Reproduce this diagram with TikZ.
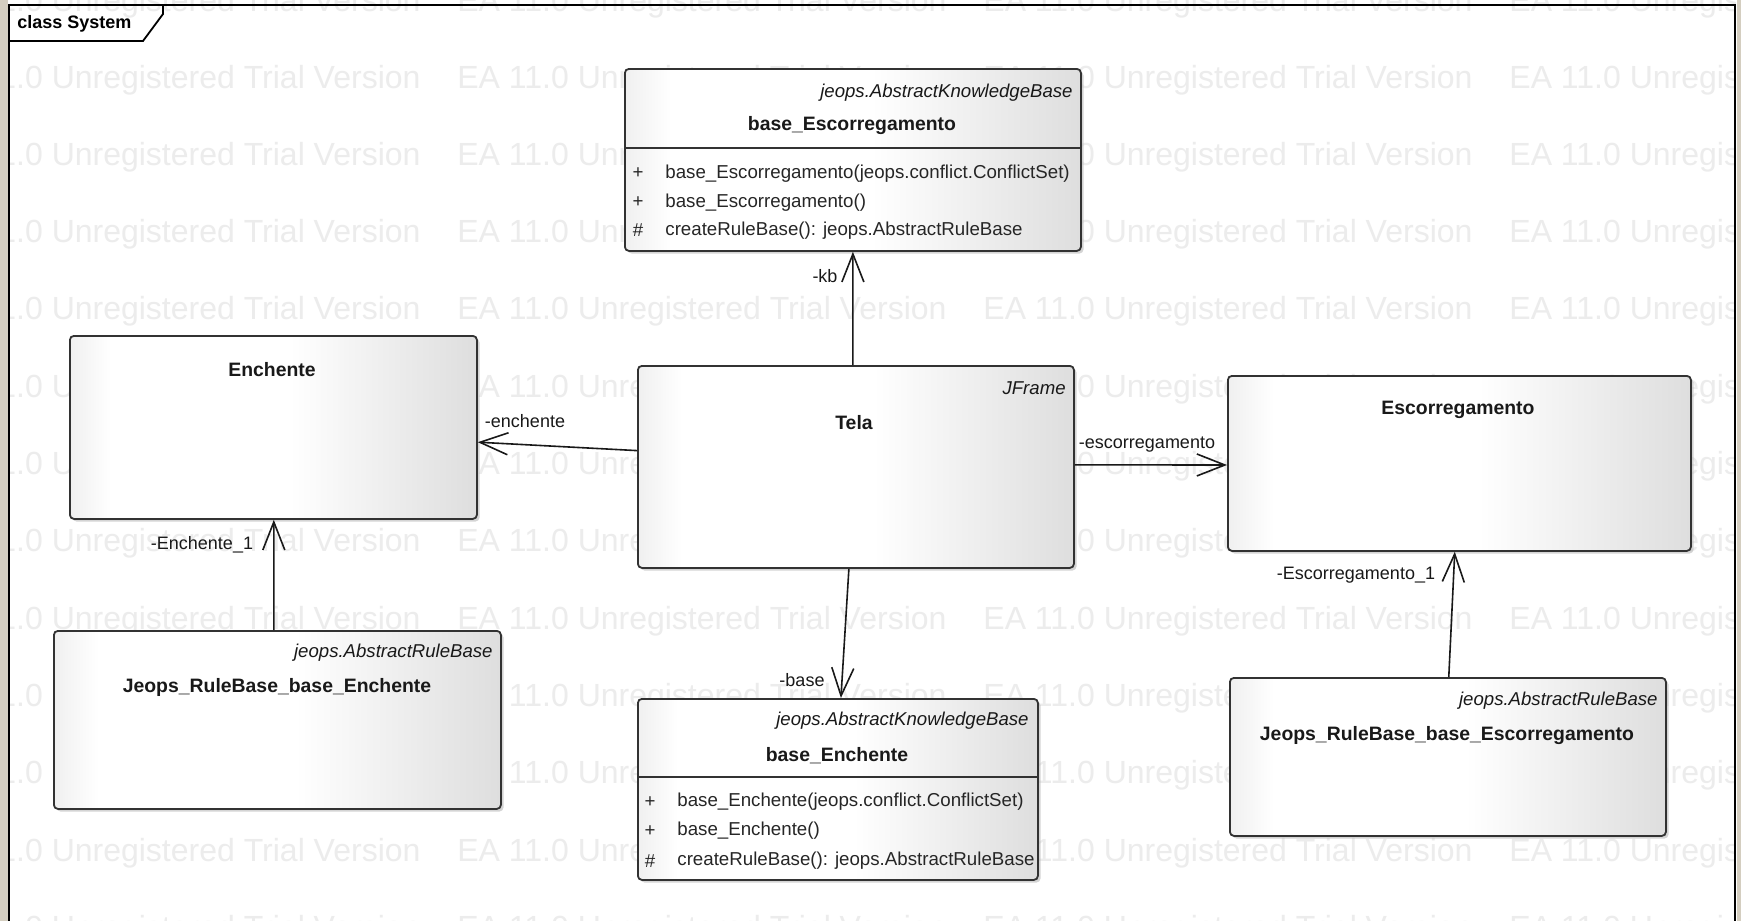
\documentclass[tikz,border=0pt]{standalone}
\usepackage{fontspec}
\setmainfont{Liberation Sans}
\usetikzlibrary{arrows.meta,calc,shadows}
\definecolor{wm}{RGB}{236,236,236}
\definecolor{beige}{RGB}{212,206,192}
\definecolor{boxline}{RGB}{50,50,50}
\pgfdeclarehorizontalshading{boxshade}{100bp}{color(0bp)=(black!6); color(25bp)=(black!6); color(30bp)=(white); color(52bp)=(white); color(75bp)=(black!13); color(100bp)=(black!13)}
\newcommand{\stereofont}{\fontsize{9.3pt}{11pt}\selectfont\itshape}
\newcommand{\namefont}{\fontsize{9.7pt}{11pt}\selectfont\bfseries}
\newcommand{\opfont}{\fontsize{9.35pt}{11pt}\selectfont}
\newcommand{\rolefont}{\fontsize{9pt}{11pt}\selectfont}
\newcommand{\wmfont}{\fontsize{16pt}{18pt}\selectfont}
\tikzset{
  classbox/.style={draw=boxline, line width=0.9pt, rounded corners=2pt, shade, shading=boxshade,
    drop shadow={shadow xshift=1.3pt, shadow yshift=-1.3pt, fill=black!30, opacity=0.55},
    inner sep=0pt, anchor=north west},
  txt/.style={inner sep=0pt, yshift=-1.3pt},
  stereo/.style={txt, font=\stereofont, anchor=east, text=black!90},
  cname/.style={txt, font=\namefont, text=black!90},
  op/.style={txt, font=\opfont, anchor=west, text=black!85},
  vis/.style={txt, font=\opfont, text=black!85},
  role/.style={txt, font=\rolefont, text=black!90},
  divider/.style={draw=boxline, line width=0.9pt},
  assoc/.style={line width=0.8pt, draw=black!90, -{Straight Barb[length=14pt,width=11pt,line width=0.8pt]}},
  watermark/.style={font=\wmfont, text=wm, anchor=west, inner sep=0pt},
  framestyle/.style={line width=0.9pt, draw=black},
}
\begin{document}
\begin{tikzpicture}[x=0.5pt, y=-0.5pt]
\useasboundingbox (0,0) rectangle (1741,921);
\fill[white] (0,0) rectangle (1741,921);
\fill[beige] (0,0) rectangle (8,921);
\fill[beige] (1737,0) rectangle (1741,921);
% watermark
\begin{scope}
\clip (10,0) rectangle (1735,921);
\foreach \r [count=\i] in {3,80,157,234,311,389,466,543,621,698,775,853,930}{
  \foreach \c [count=\j] in {-69,457,983,1509}{
    \node[watermark] (wm\i-\j) at (\c,\r) {EA 11.0 Unregistered Trial Version};
  }
}
\end{scope}
% frame
\draw[framestyle] (9,921) -- (9,5) -- (1735,5) -- (1735,921);
\draw[framestyle] (9,41) -- (143,41) -- (163,14) -- (163,5);
\node[font=\fontsize{9pt}{11pt}\selectfont\bfseries, anchor=west, inner sep=0pt] (title) at (17,24) {class System};
% classes
\node[classbox, minimum width=228pt, minimum height=91pt] (besc) at (624,68) {};
\node[classbox, minimum width=218pt, minimum height=101pt] (tela) at (637,365) {};
\node[classbox, minimum width=203.5pt, minimum height=91.5pt] (ench) at (69,335) {};
\node[classbox, minimum width=223.5pt, minimum height=89pt] (rbe) at (53,630) {};
\node[classbox, minimum width=200pt, minimum height=90.5pt] (bench) at (637,698) {};
\node[classbox, minimum width=231.5pt, minimum height=87.5pt] (esc) at (1227,375) {};
\node[classbox, minimum width=218pt, minimum height=79pt] (rbesc) at (1229,677) {};
% dividers
\draw[divider] (besc.west |- 0,148) -- (besc.east |- 0,148);
\draw[divider] (bench.west |- 0,777) -- (bench.east |- 0,777);
% base_Escorregamento
\node[stereo] (besc-st) at (1073,90) {jeops.AbstractKnowledgeBase};
\node[cname] (besc-nm) at (852,123) {base\_Escorregamento};
\node[vis] (besc-v1) at (638,171) {+};
\node[op] (besc-o1) at (665,171) {base\_Escorregamento(jeops.conflict.ConflictSet)};
\node[vis] (besc-v2) at (638,200) {+};
\node[op] (besc-o2) at (665,200) {base\_Escorregamento()};
\node[vis] (besc-v3) at (638,228) {\#};
\node[op] (besc-o3) at (665,228) {createRuleBase(): jeops.AbstractRuleBase};
% Tela
\node[stereo] (tela-st) at (1066,386) {JFrame};
\node[cname] (tela-nm) at (854,420) {Tela};
% Enchente
\node[cname] (ench-nm) at (272,367) {Enchente};
% Jeops_RuleBase_base_Enchente
\node[stereo] (rbe-st) at (493,650) {jeops.AbstractRuleBase};
\node[cname] (rbe-nm) at (277,685) {Jeops\_RuleBase\_base\_Enchente};
% base_Enchente
\node[stereo] (bench-st) at (1029,718) {jeops.AbstractKnowledgeBase};
\node[cname] (bench-nm) at (837,753) {base\_Enchente};
\node[vis] (bench-v1) at (650,799) {+};
\node[op] (bench-o1) at (677,799) {base\_Enchente(jeops.conflict.ConflictSet)};
\node[vis] (bench-v2) at (650,828) {+};
\node[op] (bench-o2) at (677,828) {base\_Enchente()};
\node[vis] (bench-v3) at (650,858) {\#};
\node[op] (bench-o3) at (677,858) {createRuleBase(): jeops.AbstractRuleBase};
% Escorregamento
\node[cname] (esc-nm) at (1458,407) {Escorregamento};
% Jeops_RuleBase_base_Escorregamento
\node[stereo] (rbesc-st) at (1658,698) {jeops.AbstractRuleBase};
\node[cname] (rbesc-nm) at (1447,733) {Jeops\_RuleBase\_base\_Escorregamento};
% associations
\draw[assoc] ($(tela.north west)!0.493!(tela.north east)$) -- ($(besc.south west)!0.5!(besc.south east)$);
\draw[assoc] ($(tela.north west)!0.42!(tela.south west)$) -- ($(ench.north east)!0.58!(ench.south east)$);
\draw[assoc] ($(tela.south west)!0.484!(tela.south east)$) -- ($(bench.north west)!0.5075!(bench.north east)$);
\draw[assoc] ($(tela.north east)!0.49!(tela.south east)$) -- ($(esc.north west)!0.509!(esc.south west)$);
\draw[assoc] ($(rbe.north west)!0.492!(rbe.north east)$) -- ($(ench.south west)!0.501!(ench.south east)$);
\draw[assoc] ($(rbesc.north west)!0.502!(rbesc.north east)$) -- ($(esc.south west)!0.49!(esc.south east)$);
% role labels
\node[role] (r-kb) at (825,273) {-kb};
\node[role] (r-ench) at (525,418) {-enchente};
\node[role] (r-ench1) at (202,542) {-Enchente\_1};
\node[role] (r-base) at (802,677) {-base};
\node[role] (r-esc) at (1147,442) {-escorregamento};
\node[role] (r-esc1) at (1356,573) {-Escorregamento\_1};
\end{tikzpicture}
\end{document}
